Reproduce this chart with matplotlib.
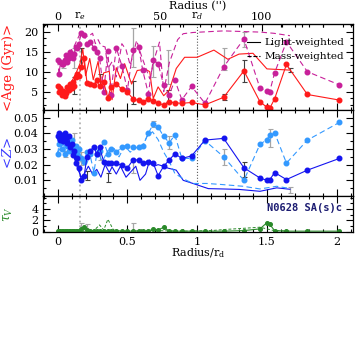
import matplotlib
matplotlib.use('Agg')
import matplotlib.pyplot as plt
from matplotlib.ticker import MultipleLocator, AutoMinorLocator, FixedLocator
from matplotlib.lines import Line2D

plt.rcParams['font.family'] = 'DejaVu Serif'
plt.rcParams['mathtext.fontset'] = 'dejavuserif'

# radius of the annuli, in units of the disc scale length r_d
r = [0.00, 0.01, 0.02, 0.03, 0.04, 0.05, 0.06, 0.07, 0.08, 0.09,
     0.10, 0.11, 0.12, 0.13, 0.14, 0.15, 0.17, 0.19, 0.21, 0.23,
     0.26, 0.28, 0.30, 0.33, 0.36, 0.38, 0.42, 0.46, 0.50, 0.54,
     0.58, 0.61, 0.65, 0.685, 0.72, 0.76, 0.80, 0.84, 0.89, 0.96,
     1.056, 1.19, 1.335, 1.45, 1.50, 1.52, 1.555, 1.64, 1.79, 2.02]

age_lw = [6.5, 4.8, 5.8, 4.2, 5.2, 3.9, 4.6, 6.2, 5.4, 6.8,
          6.0, 7.4, 6.5, 8.6, 9.4, 9.0, 11.2, 13.5, 7.2, 7.0,
          6.7, 7.8, 6.3, 7.3, 3.4, 6.1, 7.0, 5.6, 4.9, 3.2,
          2.8, 2.4, 3.2, 2.6, 2.1, 1.7, 2.5, 2.2, 2.1, 2.3,
          1.7, 3.6, 10.2, 2.5, 1.1, 0.85, 3.2, 11.8, 4.3, 2.9]

age_mw = [13.0, 9.3, 12.5, 11.8, 12.0, 13.0, 14.2, 12.5, 13.5, 15.0,
          14.0, 13.3, 14.5, 16.2, 15.8, 17.0, 19.6, 19.2, 16.8, 17.5,
          16.0, 14.8, 13.5, 5.0, 15.2, 4.2, 16.0, 11.5, 5.4, 15.5,
          16.2, 10.3, 4.5, 12.9, 12.0, 6.6, 4.2, 7.9, 3.0, 6.3,
          2.1, 11.2, 18.2, 5.9, 5.2, 5.0, 9.7, 17.5, 10.0, 6.7]

z_lw = [0.038, 0.040, 0.036, 0.039, 0.035, 0.040, 0.037, 0.034, 0.038, 0.031,
        0.033, 0.026, 0.029, 0.021, 0.024, 0.018, 0.010, 0.013, 0.025, 0.029,
        0.031, 0.027, 0.031, 0.022, 0.021, 0.021, 0.021, 0.0195, 0.018, 0.023,
        0.023, 0.021, 0.022, 0.021, 0.013, 0.019, 0.023, 0.027, 0.024, 0.0256,
        0.0357, 0.0368, 0.018, 0.0115, 0.010, 0.0103, 0.015, 0.0105, 0.0165, 0.024]

z_mw = [0.027, 0.033, 0.036, 0.030, 0.038, 0.027, 0.035, 0.032, 0.029, 0.034,
        0.036, 0.030, 0.028, 0.032, 0.027, 0.030, 0.024, 0.022, 0.028, 0.027,
        0.015, 0.027, 0.029, 0.0346, 0.027, 0.030, 0.028, 0.031, 0.032, 0.031,
        0.031, 0.032, 0.040, 0.046, 0.044, 0.038, 0.034, 0.039, 0.024, 0.024,
        0.0353, 0.025, 0.010, 0.033, 0.036, 0.039, 0.0404, 0.021, 0.0357, 0.047]

tau_v = [0.1, 0.1, 0.1, 0.1, 0.1, 0.1, 0.1, 0.1, 0.1, 0.1,
         0.1, 0.1, 0.1, 0.1, 0.2, 0.1, 0.4, 0.8, 0.3, 0.2,
         0.1, 0.1, 0.1, 0.1, 0.1, 0.1, 0.1, 0.1, 0.1, 0.1,
         0.1, 0.1, 0.1, 0.5, 0.3, 0.8, 0.1, 0.1, 0.1, 0.1,
         0.1, 0.1, 0.2, 0.5, 1.6, 1.3, 0.2, 0.1, 0.1, 0.1]

# second set of profiles (drawn without symbols)
r2 = [0.07, 0.10, 0.13, 0.16, 0.18, 0.20, 0.23, 0.255, 0.29, 0.31,
      0.33, 0.37, 0.39, 0.42, 0.45, 0.48, 0.53, 0.57, 0.63, 0.66,
      0.685, 0.72, 0.76, 0.80, 0.85, 0.91, 1.00, 1.12, 1.22, 1.30,
      1.40, 1.50, 1.665]
age_lw2 = [6.0, 7.5, 9.5, 12.0, 15.7, 9.0, 13.3, 8.0, 12.6, 6.9,
           9.7, 10.1, 3.0, 11.0, 8.3, 12.0, 6.9, 10.3, 10.6, 10.0,
           3.3, 6.2, 4.0, 5.4, 10.8, 13.6, 13.6, 15.4, 13.1, 14.4,
           14.6, 10.7, 10.4]

r3 = [0.08, 0.12, 0.16, 0.18, 0.21, 0.23, 0.25, 0.27, 0.29, 0.31,
      0.34, 0.36, 0.39, 0.42, 0.46, 0.49, 0.52, 0.566, 0.60, 0.66,
      0.70, 0.73, 0.76, 0.80, 0.86, 0.90, 0.97, 1.19, 1.45, 1.55,
      1.665]
age_mw2 = [14.5, 16.5, 19.5, 19.8, 18.8, 19.1, 19.6, 17.0, 18.0, 16.5,
           16.2, 10.8, 12.5, 8.7, 17.0, 15.5, 11.6, 17.8, 14.0, 8.2,
           14.0, 17.4, 5.0, 12.2, 18.0, 19.5, 19.8, 20.2, 19.9, 19.6,
           19.0]

r4 = [0.00, 0.03, 0.06, 0.09, 0.12, 0.15, 0.17, 0.19, 0.22, 0.25,
      0.28, 0.31, 0.34, 0.37, 0.39, 0.42, 0.45, 0.49, 0.53, 0.56,
      0.59, 0.63, 0.66, 0.69, 0.72, 0.76, 0.79, 0.85, 0.90, 0.97,
      1.08, 1.18, 1.30, 1.45, 1.57, 1.665]
z_lw2 = [0.036, 0.034, 0.033, 0.030, 0.024, 0.016, 0.012, 0.014, 0.019, 0.014,
         0.017, 0.012, 0.020, 0.015, 0.0186, 0.014, 0.019, 0.012, 0.016, 0.019,
         0.010, 0.014, 0.023, 0.019, 0.020, 0.019, 0.0178, 0.0165, 0.010, 0.008,
         0.0047, 0.0045, 0.0042, 0.003, 0.0052, 0.0043]

r5 = [0.00, 0.04, 0.08, 0.12, 0.16, 0.20, 0.24, 0.28, 0.32, 0.36,
      0.40, 0.44, 0.48, 0.52, 0.56, 0.60, 0.64, 0.68, 0.72, 0.76,
      0.80, 0.84, 0.90, 0.97, 1.07, 1.18, 1.33, 1.45, 1.57, 1.665]
z_mw2 = [0.028, 0.033, 0.030, 0.032, 0.025, 0.020, 0.026, 0.030, 0.022, 0.029,
         0.031, 0.025, 0.032, 0.028, 0.031, 0.030, 0.038, 0.041, 0.036, 0.028,
         0.022, 0.0144, 0.011, 0.008, 0.008, 0.0073, 0.0062, 0.0045, 0.0062, 0.0048]

r6 = [0.00, 0.10, 0.20, 0.26, 0.30, 0.33, 0.36, 0.40, 0.50, 0.70,
      0.90, 1.10, 1.20, 1.33, 1.45, 1.55, 1.665]
tau_v2 = [0.0, 0.0, 0.1, 0.2, 1.2, 0.3, 2.2, 0.3, 0.1, 0.2,
          0.1, 0.2, 0.4, 0.6, 0.8, 0.2, 0.1]

# error bars
age_eg_x = [0.04, 0.12, 0.54, 0.685, 0.79, 1.19, 1.335]
age_eg_y = [12.0, 13.5, 16.0, 12.5, 11.2, 13.1, 18.1]
age_eg_e = [1.0, 2.5, 4.8, 3.8, 4.2, 2.7, 1.9]
age_eb_x = [0.12, 0.17, 0.30, 0.54, 0.79, 1.19, 1.335, 1.665]
age_eb_y = [6.5, 13.5, 7.8, 4.8, 4.0, 3.6, 10.2, 10.3]
age_eb_e = [2.2, 2.5, 1.5, 2.8, 1.5, 0.8, 2.7, 0.5]

z_eg_x = [0.05, 0.12, 0.17, 0.30, 0.54, 0.685, 0.80, 1.19, 1.52, 1.665]
z_eg_y = [0.027, 0.034, 0.024, 0.027, 0.019, 0.046, 0.034, 0.025, 0.037, 0.004]
z_eg_e = [0.002, 0.006, 0.004, 0.004, 0.004, 0.002, 0.004, 0.005, 0.006, 0.002]
z_eb_x = [0.21, 0.36, 1.335]
z_eb_y = [0.013, 0.012, 0.017]
z_eb_e = [0.003, 0.003, 0.005]

tau_e_x = [0.17, 0.21, 0.54]
tau_e_y = [0.8, 0.7, 0.9]
tau_e_e = [0.7, 0.6, 0.6]

r_e = 0.157
r_d_arcsec = 68.4

red = '#ff1a1a'
mag = '#c8209a'
dblue = '#1414f0'
lblue = '#3399ff'
green = '#2a8a2a'

fig = plt.figure(figsize=(3.57, 3.57), dpi=100)
L, W = 0.1213, 0.8667
ax1 = fig.add_axes([L, 0.6905, W, 0.2409])
ax2 = fig.add_axes([L, 0.451, W, 0.2395])
ax3 = fig.add_axes([L, 0.3501, W, 0.1008])

ms = 3.3
lw = 0.8

# age panel
ax1.plot(r2, age_lw2, '-', color=red, lw=lw)
ax1.plot(r3, age_mw2, '--', color=mag, lw=lw, dashes=(5, 3))
ax1.errorbar(age_eg_x, age_eg_y, yerr=age_eg_e, fmt='none', ecolor='0.65',
             elinewidth=0.9, capsize=1.8, capthick=0.8, zorder=1)
ax1.errorbar(age_eb_x, age_eb_y, yerr=age_eb_e, fmt='none', ecolor='0.25',
             elinewidth=0.8, capsize=1.8, capthick=0.8, zorder=1)
ax1.plot(r, age_mw, '--', color=mag, lw=lw, marker='o', ms=ms, dashes=(5, 3))
ax1.plot(r, age_lw, '-', color=red, lw=lw, marker='o', ms=ms)
ax1.set_ylim(0.3, 21.8)
ax1.yaxis.set_major_locator(MultipleLocator(5))
ax1.yaxis.set_minor_locator(AutoMinorLocator(3))
ax1.set_ylabel(r'<Age (Gyr)>', color=red, fontsize=9.5)

handles = [Line2D([], [], color='k', lw=0.8, ls='-'),
           Line2D([], [], color='k', lw=0.8, ls='--')]
ax1.legend(handles, ['Light-weighted', 'Mass-weighted'], loc='upper right',
           frameon=False, fontsize=7.5, handlelength=1.2, handletextpad=0.4,
           borderaxespad=0.0, labelspacing=0.45, bbox_to_anchor=(0.985, 0.89))

# metallicity panel
ax2.plot(r4, z_lw2, '-', color=dblue, lw=lw)
ax2.plot(r5, z_mw2, '--', color=lblue, lw=lw, dashes=(5, 3))
ax2.errorbar(z_eg_x, z_eg_y, yerr=z_eg_e, fmt='none', ecolor='0.65',
             elinewidth=0.9, capsize=1.8, capthick=0.8, zorder=1)
ax2.errorbar(z_eb_x, z_eb_y, yerr=z_eb_e, fmt='none', ecolor='0.25',
             elinewidth=0.8, capsize=1.8, capthick=0.8, zorder=1)
ax2.plot(r, z_mw, '--', color=lblue, lw=lw, marker='o', ms=ms, dashes=(5, 3))
ax2.plot(r, z_lw, '-', color=dblue, lw=lw, marker='o', ms=ms)
ax2.set_ylim(0, 0.0546)
ax2.yaxis.set_major_locator(FixedLocator([0.01, 0.02, 0.03, 0.04, 0.05]))
ax2.yaxis.set_minor_locator(FixedLocator([0.0, 0.005, 0.015, 0.025, 0.035, 0.045]))
ax2.set_ylabel(r'<$Z$>', color='#3a3aff', fontsize=9.5)

# extinction panel
ax3.plot(r6, tau_v2, '--', color=green, lw=0.7, dashes=(3, 2))
ax3.errorbar(tau_e_x, tau_e_y, yerr=tau_e_e, fmt='none', ecolor='0.65',
             elinewidth=0.9, capsize=1.8, capthick=0.8, zorder=1)
ax3.plot(r, tau_v, '-', color=green, lw=lw, marker='o', ms=2.6)
ax3.set_ylim(-0.05, 6.3)
ax3.yaxis.set_major_locator(FixedLocator([0, 2, 4]))
ax3.yaxis.set_minor_locator(FixedLocator([1, 3, 5, 6]))
ax3.set_ylabel(r'$\tau_V$', color=green, fontsize=9)
ax3.text(0.965, 0.68, 'N0628 SA(s)c', transform=ax3.transAxes, ha='right',
         va='center', color='#1c1c72', fontsize=7.5, fontweight='bold',
         family='DejaVu Sans Mono')
ax3.set_xlabel(r'Radius/r$_\mathrm{d}$', fontsize=8, labelpad=0)

for ax in (ax1, ax2, ax3):
    ax.set_xlim(-0.103, 2.115)
    ax.xaxis.set_major_locator(MultipleLocator(0.5))
    ax.xaxis.set_minor_locator(MultipleLocator(0.1))
    ax.xaxis.set_major_formatter(matplotlib.ticker.FuncFormatter(
        lambda v, p: '%g' % round(v, 2)))
    ax.tick_params(which='both', direction='in', top=True, right=True,
                   labelsize=8, width=0.8)
    ax.tick_params(which='major', length=5)
    ax.tick_params(which='minor', length=2.5)
    ax.axvline(r_e, color='0.7', ls=':', lw=1.3, zorder=0)
    ax.yaxis.set_label_coords(-0.09, 0.5)
    for s in ax.spines.values():
        s.set_linewidth(0.9)
ax1.axvline(1.0, color='0.35', ls=':', lw=0.8, zorder=0)
ax2.axvline(1.0, color='0.35', ls=':', lw=0.8, zorder=0)
ax1.tick_params(labelbottom=False, top=False)
ax2.tick_params(labelbottom=False)

# top axis in arcsec
sec = ax1.secondary_xaxis('top', functions=(lambda x: x * r_d_arcsec,
                                            lambda a: a / r_d_arcsec))
sec.xaxis.set_major_locator(FixedLocator([0, 50, 100]))
sec.xaxis.set_minor_locator(FixedLocator([-5, 10, 20, 30, 40, 60, 70, 80, 90,
                                          110, 120, 130, 140]))
sec.tick_params(which='both', direction='in', labelsize=8, width=0.8, pad=2)
sec.tick_params(which='major', length=5)
sec.tick_params(which='minor', length=2.5)
sec.set_xlabel("Radius ('')", fontsize=8, labelpad=2)
ax1.text(r_e, 1.025, r'r$_e$', transform=ax1.get_xaxis_transform(),
         ha='center', va='bottom', fontsize=8)
ax1.text(1.0, 1.025, r'r$_d$', transform=ax1.get_xaxis_transform(),
         ha='center', va='bottom', fontsize=8)

fig.savefig('out.png', dpi=100)
